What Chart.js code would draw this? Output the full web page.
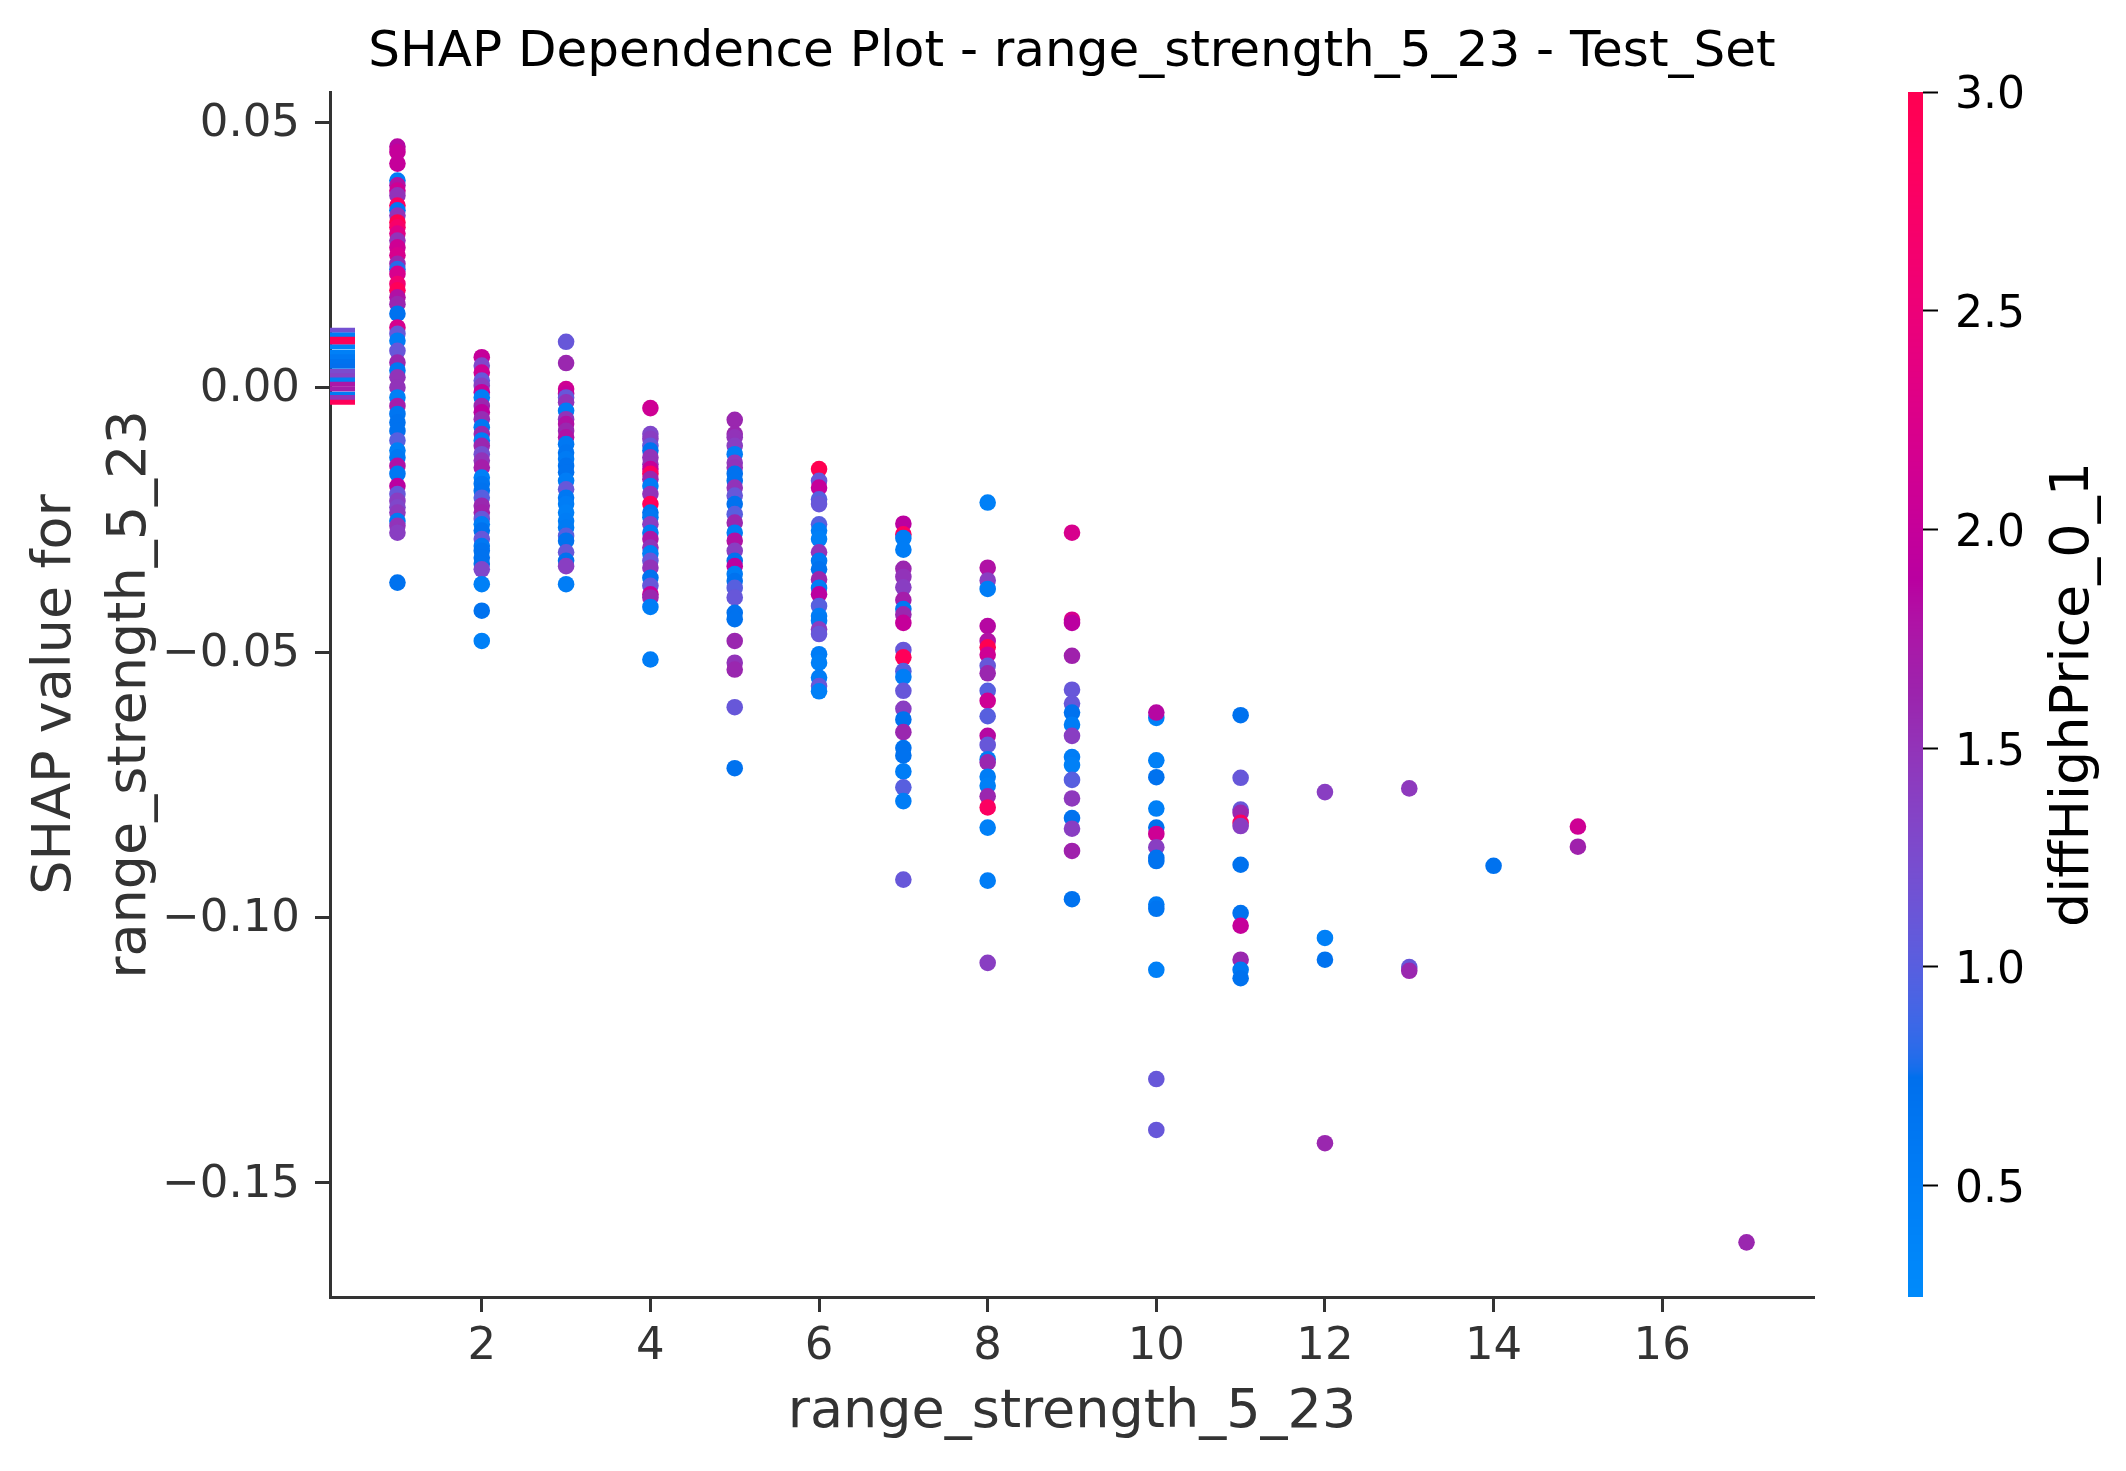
<!DOCTYPE html>
<html>
<head>
<meta charset="utf-8">
<script src="https://cdn.jsdelivr.net/npm/chart.js@4.4.1/dist/chart.umd.min.js"></script>
<style>
  html, body { margin: 0; padding: 0; background: #fff; }
  #chart { display: block; }
</style>
</head>
<body>
<canvas id="chart" width="2126" height="1471"></canvas>
<script>
// range_strength_5_23 value of each column of points
const binX = [1, 2, 3, 4, 5, 6, 7, 8, 9, 10, 11, 12, 13, 14, 15, 17]

// SHAP values, one list per column (same order as binX)
const shapByBin = [
  [0.0454, 0.0444, 0.0422, 0.039, 0.0381, 0.0371, 0.0362, 0.0343, 0.0334, 0.0324, 0.0311, 0.0302, 0.029, 0.0277, 0.0264, 0.0249, 0.0233, 0.0223, 0.0214, 0.0195, 0.0183, 0.017, 0.0157, 0.0139, 0.0113, 0.0101, 0.0088, 0.0069, 0.0047, 0.0032, 0.0019, 0.0, -0.0019, -0.0035, -0.005, -0.0066, -0.0082, -0.01, -0.0119, -0.0132, -0.0148, -0.0163, -0.0186, -0.0201, -0.0214, -0.0226, -0.0236, -0.0252, -0.0261, -0.0274, -0.0368],
  [0.0057, 0.0041, 0.0028, 0.0013, 0.0003, -0.0009, -0.0019, -0.0035, -0.0047, -0.006, -0.0075, -0.0088, -0.01, -0.011, -0.0126, -0.0138, -0.0151, -0.017, -0.0182, -0.0195, -0.0208, -0.0223, -0.0236, -0.0248, -0.0258, -0.027, -0.0286, -0.0299, -0.0308, -0.0321, -0.0333, -0.0343, -0.0371, -0.0421, -0.0478],
  [0.0086, 0.0046, -0.0003, -0.0012, -0.0019, -0.0028, -0.0044, -0.006, -0.0069, -0.0082, -0.0094, -0.0107, -0.0123, -0.0135, -0.0148, -0.016, -0.0176, -0.0192, -0.0208, -0.022, -0.0236, -0.0252, -0.0264, -0.028, -0.0289, -0.0311, -0.0327, -0.0337, -0.0371],
  [-0.0039, -0.0088, -0.0097, -0.011, -0.0119, -0.0132, -0.0145, -0.0154, -0.0163, -0.0173, -0.0186, -0.0201, -0.022, -0.0236, -0.0245, -0.0258, -0.0274, -0.0286, -0.0302, -0.0313, -0.0327, -0.034, -0.0359, -0.0374, -0.039, -0.0396, -0.0414, -0.0513],
  [-0.0061, -0.0088, -0.0094, -0.011, -0.0126, -0.0142, -0.0151, -0.0163, -0.0176, -0.0189, -0.0204, -0.022, -0.0239, -0.0255, -0.0274, -0.0289, -0.0308, -0.0327, -0.0337, -0.0352, -0.0365, -0.0378, -0.0396, -0.0425, -0.0437, -0.0478, -0.0519, -0.0532, -0.0603, -0.0718],
  [-0.0154, -0.0176, -0.0189, -0.0211, -0.022, -0.0258, -0.027, -0.0286, -0.0311, -0.0327, -0.0343, -0.0362, -0.0378, -0.039, -0.0412, -0.0431, -0.044, -0.0456, -0.0465, -0.0503, -0.0519, -0.0547, -0.0563, -0.0573],
  [-0.0257, -0.0277, -0.0284, -0.0306, -0.0342, -0.0357, -0.0377, -0.0401, -0.0418, -0.0428, -0.0444, -0.0495, -0.0509, -0.0535, -0.0546, -0.0572, -0.0606, -0.0626, -0.065, -0.068, -0.0694, -0.0724, -0.0754, -0.078, -0.0928],
  [-0.0217, -0.034, -0.0364, -0.038, -0.045, -0.0478, -0.049, -0.0504, -0.0525, -0.0539, -0.0572, -0.0591, -0.062, -0.0657, -0.0674, -0.0701, -0.0707, -0.0734, -0.0751, -0.0771, -0.0792, -0.083, -0.093, -0.1085],
  [-0.0274, -0.0438, -0.0444, -0.0506, -0.057, -0.0596, -0.0613, -0.0636, -0.0657, -0.0697, -0.0712, -0.074, -0.0775, -0.0812, -0.0832, -0.0874, -0.0965],
  [-0.0623, -0.0613, -0.0703, -0.0735, -0.0794, -0.083, -0.0842, -0.0867, -0.0887, -0.0893, -0.0975, -0.0983, -0.1098, -0.1304, -0.14],
  [-0.0618, -0.0736, -0.0796, -0.0802, -0.0821, -0.0827, -0.09, -0.0991, -0.1015, -0.1079, -0.1098, -0.1114],
  [-0.0763, -0.1038, -0.1079, -0.1425],
  [-0.0756, -0.1093, -0.11],
  [-0.0902],
  [-0.0828, -0.0866],
  [-0.1612]
]

// diffHighPrice_0_1 value behind each point's colour
const colorByBin = [
  [1.85, 2.0, 2.0, 0.5, 1.8, 2.1, 1.5, 2.8, 0.6, 1.5, 3.0, 2.7, 2.3, 1.5, 2.1, 2.2, 1.6, 0.8, 2.2, 2.6, 2.9, 1.8, 1.6, 0.7, 2.2, 1.1, 0.5, 1.1, 1.6, 0.6, 1.5, 1.5, 0.45, 1.7, 0.65, 0.7, 0.7, 1.0, 0.45, 0.6, 1.8, 0.6, 1.9, 1.1, 1.4, 1.3, 1.45, 0.55, 1.5, 1.4, 0.7],
  [2.0, 1.3, 2.1, 1.1, 1.4, 2.0, 0.5, 1.6, 1.9, 1.55, 0.6, 1.6, 0.5, 1.6, 1.2, 1.5, 1.7, 0.45, 0.65, 0.7, 1.0, 1.6, 1.65, 1.1, 0.5, 0.7, 1.1, 0.6, 0.7, 0.7, 0.7, 1.3, 0.45, 0.7, 0.45],
  [1.1, 1.6, 2.1, 2.0, 1.1, 1.5, 0.5, 1.5, 1.8, 1.6, 1.8, 0.6, 0.65, 0.55, 0.7, 0.7, 0.5, 1.1, 0.6, 0.5, 0.45, 0.5, 0.55, 1.0, 0.7, 1.1, 0.7, 1.4, 0.5],
  [2.1, 1.3, 1.4, 1.1, 0.7, 1.5, 1.5, 2.0, 2.8, 1.6, 0.5, 1.5, 2.9, 0.7, 0.6, 1.4, 0.55, 1.75, 1.5, 0.45, 1.1, 1.5, 0.7, 1.1, 2.0, 1.6, 0.5, 0.5],
  [1.6, 1.6, 1.5, 1.4, 0.5, 1.45, 1.5, 0.7, 0.7, 1.5, 1.1, 0.7, 1.0, 1.6, 0.5, 1.8, 1.4, 0.7, 1.9, 0.5, 0.7, 1.0, 1.1, 0.7, 0.7, 1.6, 1.5, 1.6, 1.1, 0.7],
  [3.0, 1.1, 2.0, 1.0, 1.1, 1.0, 0.5, 0.45, 1.5, 0.6, 0.7, 1.6, 0.5, 1.9, 1.0, 0.5, 0.55, 1.4, 1.1, 0.5, 0.45, 0.5, 1.1, 0.45],
  [1.9, 2.8, 0.5, 0.5, 1.6, 1.5, 1.4, 1.7, 0.6, 1.6, 2.0, 1.1, 2.9, 1.0, 0.5, 1.1, 1.4, 0.7, 1.6, 0.7, 0.7, 0.5, 1.0, 0.5, 1.1],
  [0.45, 1.8, 1.4, 0.5, 1.85, 1.8, 3.0, 2.1, 1.1, 1.6, 1.0, 2.1, 1.0, 1.85, 1.1, 0.5, 1.6, 0.5, 0.45, 1.6, 2.8, 0.45, 0.5, 1.4],
  [2.2, 2.2, 1.9, 1.65, 1.1, 1.1, 0.7, 0.5, 1.4, 0.5, 0.45, 1.0, 1.45, 0.7, 1.4, 1.65, 0.7],
  [0.45, 1.85, 0.45, 0.7, 0.45, 0.7, 2.1, 1.4, 0.7, 0.7, 0.55, 0.65, 0.45, 1.1, 1.1],
  [0.7, 1.1, 1.1, 1.6, 2.8, 1.4, 0.7, 0.7, 2.0, 1.6, 0.6, 0.7],
  [1.4, 0.45, 0.7, 1.6],
  [1.45, 1.1, 1.6],
  [0.7],
  [2.1, 1.65],
  [1.6]
]

// rows whose feature value is missing, drawn as ticks at the left edge
const nanShap = [0.0108, 0.0099, 0.0091, 0.0085, 0.0076, 0.0066, 0.0058, 0.0049, 0.004, 0.003, 0.0022, 0.0014, 0.0006, -0.0003, -0.0013, -0.0019, -0.0028]
const nanColor = [1.2, 0.5, 3.0, 2.9, 0.4, 0.45, 0.6, 0.7, 0.75, 1.25, 1.35, 0.5, 1.75, 1.7, 0.55, 1.5, 2.9]

const xTicks = [2, 4, 6, 8, 10, 12, 14, 16]
const yTicks = [-0.15, -0.10, -0.05, 0.00, 0.05]
const cbTicks = [0.5, 1.0, 1.5, 2.0, 2.5, 3.0]

const titleText = 'SHAP Dependence Plot - range_strength_5_23 - Test_Set'
const featureName = 'range_strength_5_23'
const colorFeature = 'diffHighPrice_0_1'

const xMin = 0.2, xMax = 17.8
const yMin = -0.1715, yMax = 0.0557
const colorMin = 0.245, colorMax = 3.0

// shap red_blue colormap (blue -> purple -> red, built in LCH space)
function redBlue(t) {
    t = Math.min(1, Math.max(0, t))
    const l = t < 0.5 ? 54 - 14 * t / 0.5 : 40 + 14 * (t - 0.5) / 0.5
    const c = 70 + 20 * t
    const h = 4.6588 + (0.35470565 + 2 * Math.PI - 4.6588) * t
    const a = c * Math.cos(h), b = c * Math.sin(h)
    const fy = (l + 16) / 116, fx = fy + a / 500, fz = fy - b / 200
    const inv = v => v > 0.2068966 ? v * v * v : (v - 16 / 116) / 7.787
    const X = 0.95047 * inv(fx), Y = inv(fy), Z = 1.08883 * inv(fz)
    const lin = [
        3.2406 * X - 1.5372 * Y - 0.4986 * Z,
        -0.9689 * X + 1.8758 * Y + 0.0415 * Z,
        0.0557 * X - 0.2040 * Y + 1.0570 * Z
    ]
    const rgb = lin.map(v => {
        v = v > 0.0031308 ? 1.055 * Math.pow(v, 1 / 2.4) - 0.055 : 12.92 * v
        return Math.round(255 * Math.min(1, Math.max(0, v)))
    })
    return 'rgb(' + rgb.join(',') + ')'
}
const colorOf = v => redBlue((v - colorMin) / (colorMax - colorMin))

let points = []
let pointColors = []
for (let i = 0; i < binX.length; i++) {
    for (let j = 0; j < shapByBin[i].length; j++) {
        points.push({ x: binX[i], y: shapByBin[i][j] })
        pointColors.push(colorOf(colorByBin[i][j]))
    }
}
const nanPoints = nanShap.map(v => ({ x: xMin, y: v }))
const nanColors = nanColor.map(colorOf)

const font = (size, lh) => ({ family: 'DejaVu Sans', size: size, weight: 'normal', lineHeight: lh || 1.2 })
// matplotlib style labels with a real minus sign
const yLabel = v => (v < 0 ? '\u2212' : '') + Math.abs(v).toFixed(2)

// gradient strip + label of the colour scale
const colorbarPlugin = {
    id: 'colorbar',
    afterDraw(chart) {
        const cb = chart.scales.cb
        const ctx = chart.ctx
        const top = cb.getPixelForValue(colorMax)
        const bottom = cb.getPixelForValue(colorMin)
        ctx.save()
        for (let py = Math.floor(top); py < Math.ceil(bottom); py++) {
            ctx.fillStyle = colorOf(cb.getValueForPixel(py + 0.5))
            ctx.fillRect(cb.left - 15, py, 15, 1)
        }
        ctx.translate(cb.left + 165, (top + bottom) / 2)
        ctx.rotate(-Math.PI / 2)
        ctx.font = '54px "DejaVu Sans"'
        ctx.fillStyle = '#000000'
        ctx.textAlign = 'center'
        ctx.textBaseline = 'alphabetic'
        ctx.fillText(colorFeature, 0, 0)
        ctx.restore()
    }
}

const ctx = document.getElementById('chart').getContext('2d')
const chart = new Chart(ctx, {
    type: 'scatter',
    data: {
        datasets: [{
                label: 'shap',
                data: points,
                pointBackgroundColor: pointColors,
                pointBorderWidth: 0,
                pointRadius: 8.3,
                pointHoverRadius: 8.3,
                clip: 0
            }, {
                label: 'nan',
                data: nanPoints,
                pointStyle: 'line',
                pointBorderColor: nanColors,
                pointBackgroundColor: nanColors,
                pointBorderWidth: 5,
                pointRadius: 25,
                pointHoverRadius: 25,
                clip: 0
            }]
    },
    options: {
        responsive: false,
        animation: false,
        devicePixelRatio: 1,
        layout: { padding: 0 },
        plugins: {
            legend: { display: false },
            tooltip: { enabled: false },
            title: {
                display: true,
                text: titleText,
                color: '#000000',
                font: font(50),
                fullSize: false,
                padding: { top: 23, bottom: 9 }
            }
        },
        scales: {
            x: {
                type: 'linear',
                position: 'bottom',
                min: xMin,
                max: xMax,
                z: 1,
                afterBuildTicks: s => { s.ticks = xTicks.map(v => ({ value: v })) },
                afterFit: s => { s.height = 174 },
                ticks: { color: '#333333', font: font(45), padding: 8, maxRotation: 0, autoSkip: false, callback: v => String(v) },
                grid: { display: true, drawOnChartArea: false, drawTicks: true, tickLength: 15, tickWidth: 3, tickColor: '#333333' },
                border: { display: true, color: '#333333', width: 3 },
                title: { display: true, text: featureName, color: '#333333', font: font(54), padding: { top: 0, bottom: 26 } }
            },
            y: {
                type: 'linear',
                position: 'left',
                min: yMin,
                max: yMax,
                z: 1,
                afterBuildTicks: s => { s.ticks = yTicks.map(v => ({ value: v })) },
                afterFit: s => { s.width = 330 },
                ticks: { color: '#333333', font: font(45), padding: 15, labelOffset: 2, callback: yLabel },
                grid: { display: true, drawOnChartArea: false, drawTicks: true, tickLength: 15, tickWidth: 3, tickColor: '#333333' },
                border: { display: true, color: '#333333', width: 3 },
                title: { display: true, text: ['SHAP value for', featureName], color: '#333333', font: font(54, 1.39), padding: { top: 18, bottom: 0 } }
            },
            gap: {
                type: 'linear',
                position: 'right',
                weight: 1,
                display: true,
                afterFit: s => { s.width = 109 },
                ticks: { display: false },
                grid: { display: false },
                border: { display: false }
            },
            cb: {
                type: 'linear',
                position: 'right',
                weight: 2,
                min: colorMin,
                max: colorMax,
                afterBuildTicks: s => { s.ticks = cbTicks.map(v => ({ value: v })) },
                afterFit: s => { s.width = 203 },
                ticks: { color: '#000000', font: font(44), padding: 17, labelOffset: 5, callback: v => v.toFixed(1) },
                grid: { display: true, drawOnChartArea: false, drawTicks: true, tickLength: 15, tickWidth: 2, tickColor: '#000000' },
                border: { display: false }
            }
        }
    },
    plugins: [colorbarPlugin]
})
</script>
</body>
</html>
